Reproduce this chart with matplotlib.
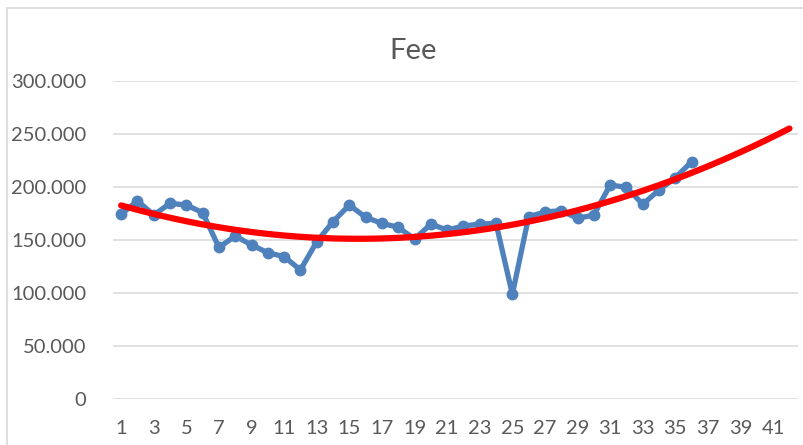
import numpy as np
import matplotlib.pyplot as plt
from matplotlib.patches import Rectangle
from matplotlib.ticker import FuncFormatter

# Fee per period
periods = np.arange(1, 37)
fee = [174200, 187000, 173600, 184600, 183000, 175800, 143000, 153800, 145300, 138000,
       134300, 121700, 148400, 167300, 183000, 171400, 165700, 162000, 151000, 165000,
       159400, 163200, 165000, 165700, 98800, 172000, 176400, 177700, 170400, 173600,
       201900, 199700, 183700, 197200, 208800, 223900]
n_categories = 42
forecast_end = 42
y_ticks = [0, 50000, 100000, 150000, 200000, 250000, 300000]

fig = plt.figure(figsize=(8.04, 4.45), dpi=100)
fig.patch.set_facecolor('white')

# chart area border
fig.patches.append(Rectangle((7 / 804, -0.1), 1.2, (445 - 8) / 445 + 0.1,
                             transform=fig.transFigure, fill=False,
                             edgecolor='#D9D9D9', lw=1.2))

ax = fig.add_axes([113 / 804, 46 / 445, 684.6 / 804, 318 / 445])

ax.plot(periods, fee, color='#4F81BD', lw=3.8, marker='o', ms=7.5,
        solid_capstyle='round', zorder=3)

# polynomial (order 2) trendline, forecast forward to 42
coef = np.polyfit(periods, fee, 2)
xt = np.linspace(1, forecast_end, 300)
ax.plot(xt, np.polyval(coef, xt), color='#FF0000', lw=4.5, zorder=4,
        solid_capstyle='round')

ax.set_xlim(0.5, n_categories + 0.5)
ax.set_ylim(0, 300000)
ax.set_yticks(y_ticks)
ax.yaxis.set_major_formatter(FuncFormatter(
    lambda v, p: '0' if v == 0 else f'{int(v):,}'.replace(',', '.')))
ax.set_xticks(range(1, n_categories + 1, 2))
ax.grid(axis='y', color='#D9D9D9', lw=1.1)
ax.set_axisbelow(True)
for s in ax.spines.values():
    s.set_visible(False)
ax.tick_params(length=0, labelsize=14.5, labelcolor='#595959')
ax.tick_params(axis='y', pad=19)
ax.tick_params(axis='x', pad=15)
for lbl in ax.get_xticklabels() + ax.get_yticklabels():
    lbl.set_family(['Lato', 'DejaVu Sans'])

fig.text(413 / 804, 1 - 51 / 445, 'Fee', ha='center', va='center',
         fontsize=21, color='#595959', family=['Lato', 'DejaVu Sans'])

fig.savefig('out.png', dpi=100)
